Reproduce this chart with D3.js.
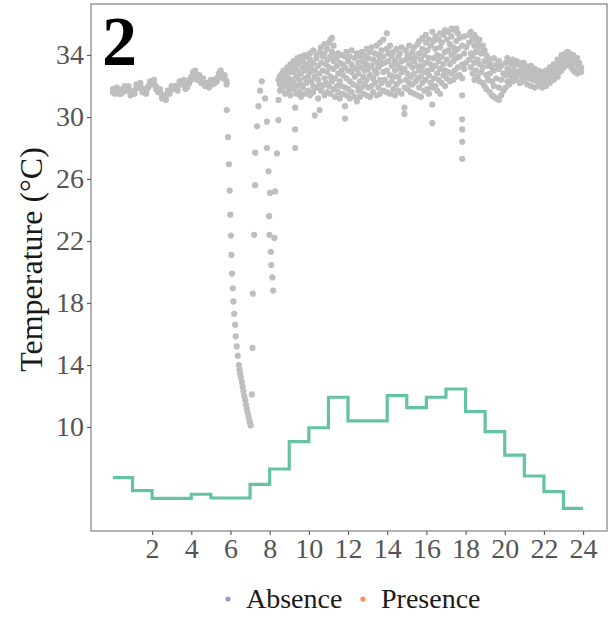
<!DOCTYPE html>
<html>
<head>
<meta charset="utf-8">
<script src="https://cdn.jsdelivr.net/npm/d3@7"></script>
<style>
  html, body { margin: 0; padding: 0; background: #ffffff; }
  svg { display: block; }
</style>
</head>
<body>
<svg id="chart" width="611" height="620"></svg>
<script>
// ---- Temperature readings: each row is [hour, temperature, temperature, ...] ----

// Night trace, 0–6 h (two overlapping nights)
const nightTrace = [
  [0.0, 31.6, 31.8], [0.1, 31.7, 31.5], [0.2, 31.8, 31.9], [0.3, 31.7, 31.5], [0.4, 31.5, 31.7],
  [0.5, 31.6, 31.8], [0.6, 31.8, 32.0], [0.7, 31.9, 31.7], [0.8, 31.8, 32.0], [0.9, 31.6, 31.4],
  [1.0, 31.5, 31.6], [1.1, 31.7, 31.5], [1.2, 31.9, 32.1], [1.3, 32.1, 31.9], [1.4, 32.0, 32.2],
  [1.5, 31.8, 31.6], [1.6, 31.6, 31.8], [1.7, 31.7, 31.5], [1.8, 31.9, 32.0], [1.9, 32.1, 32.3],
  [2.0, 32.3, 32.1], [2.1, 32.2, 32.4], [2.2, 32.0, 31.8], [2.3, 31.8, 31.6], [2.4, 31.6, 31.8],
  [2.5, 31.4, 31.2], [2.6, 31.2, 31.4], [2.7, 31.3, 31.1], [2.8, 31.5, 31.7], [2.9, 31.7, 31.5],
  [3.0, 31.9, 32.0], [3.1, 32.0, 31.8], [3.2, 31.8, 32.0], [3.3, 31.9, 31.7], [3.4, 32.1, 32.3],
  [3.5, 32.3, 32.1], [3.6, 32.2, 32.4], [3.7, 32.0, 31.8], [3.8, 31.9, 32.1], [3.9, 32.2, 32.4],
  [4.0, 32.6, 32.4], [4.1, 32.9, 32.7], [4.2, 32.8, 33.0], [4.3, 32.6, 32.4], [4.4, 32.5, 32.7],
  [4.5, 32.4, 32.2], [4.6, 32.3, 32.5], [4.7, 32.2, 32.0], [4.8, 32.0, 32.2], [4.9, 32.1, 31.9],
  [5.0, 32.2, 32.4], [5.1, 32.3, 32.1], [5.2, 32.2, 32.4], [5.3, 32.5, 32.3], [5.4, 32.8, 32.6],
  [5.5, 32.9, 33.0], [5.6, 32.7, 32.5], [5.7, 32.5, 32.7], [5.8, 32.3, 32.1]
];

// Sharp cooling event around 6–7 h
const coolingDrop = [
  [5.81, 30.45], [5.87, 28.7], [5.92, 26.95], [5.96, 25.25], [5.99, 23.7],
  [6.02, 22.35], [6.05, 21.1], [6.08, 19.9], [6.12, 18.95], [6.15, 18.1],
  [6.19, 17.3], [6.24, 16.6], [6.27, 15.85], [6.32, 15.2], [6.37, 14.6],
  [6.43, 14.0], [6.46, 13.7], [6.49, 13.45], [6.53, 13.2], [6.58, 12.9],
  [6.62, 12.6], [6.66, 12.3], [6.70, 12.0], [6.75, 11.75], [6.79, 11.45],
  [6.83, 11.2], [6.87, 10.95], [6.92, 10.7], [6.96, 10.45], [7.00, 10.25],
  [7.03, 10.1]
];

// Re-warming traces, 7–9.3 h
const rewarming = [
  [7.09, 12.1], [7.12, 15.1], [7.14, 18.6], [7.21, 22.4], [7.26, 25.6],
  [7.26, 27.7], [7.35, 29.4], [7.43, 30.7], [7.51, 31.7], [7.60, 32.3],
  [7.77, 31.2], [7.86, 29.7], [7.86, 28.0], [7.94, 26.5], [8.02, 25.1],
  [7.97, 23.6], [7.99, 22.4], [8.06, 21.3], [8.08, 20.45], [8.14, 19.65],
  [8.18, 18.8],
  [8.45, 31.1], [8.45, 29.8], [8.37, 27.65], [8.28, 25.2], [8.24, 22.2],
  [8.45, 32.4], [8.53, 31.7], [8.62, 32.6], [8.88, 32.9], [9.21, 33.25],
  [9.30, 30.6], [9.30, 29.2], [9.30, 28.0]
];

// Daytime readings, 8.5–20 h
const dayCloud = [
  [8.52, 32.1, 32.6], [8.63, 31.8, 32.4, 32.8], [8.71, 32.3, 33.0], [8.79, 31.5, 32.0, 32.7],
  [8.9, 32.2, 32.9, 33.2], [8.97, 31.7, 32.5], [9.06, 31.4, 32.0, 32.9, 33.4], [9.13, 32.4, 33.1],
  [9.22, 31.8, 32.2, 32.9, 33.6], [9.36, 31.5, 32.6, 33.3], [9.41, 32.0, 33.0, 33.8],
  [9.5, 31.6, 32.4, 33.5], [9.6, 31.3, 32.1, 32.8, 33.9], [9.69, 31.9, 33.2, 33.6],
  [9.8, 31.5, 32.5, 33.0, 34.0], [9.88, 32.2, 33.4, 33.9], [9.97, 31.7, 32.6, 33.1],
  [10.06, 31.4, 32.9, 33.7, 34.1], [10.13, 32.3, 33.3], [10.22, 31.6, 32.0, 33.5, 34.3],
  [10.3, 30.1, 32.6, 33.0], [10.39, 31.9, 33.8, 34.0], [10.47, 31.2, 32.4, 33.3],
  [10.55, 30.45, 32.1, 32.8, 34.2], [10.62, 31.7, 33.5, 34.5], [10.71, 32.0, 33.0, 33.9],
  [10.8, 31.4, 32.5, 34.1, 34.7], [10.87, 32.2, 33.4], [10.94, 31.6, 32.9, 33.7, 34.4],
  [11.03, 32.0, 33.2, 34.8], [11.1, 31.5, 32.6, 33.9, 35.0], [11.18, 32.3, 34.2, 35.1],
  [11.26, 31.8, 33.1, 33.6, 34.6], [11.33, 31.3, 32.5, 34.0], [11.43, 32.0, 33.3, 33.8],
  [11.5, 31.6, 32.8, 34.1], [11.58, 31.2, 32.3, 33.5], [11.66, 32.0, 33.0, 34.0],
  [11.74, 31.5, 32.7, 33.4], [11.85, 30.7, 29.9, 31.9, 33.2, 33.9], [11.92, 31.4, 32.5, 34.2],
  [12.01, 31.8, 33.0, 33.6], [12.09, 31.2, 32.3, 33.9], [12.18, 31.6, 32.9, 33.4, 34.3],
  [12.26, 32.1, 33.2], [12.34, 31.3, 32.6, 33.8], [12.45, 31.0, 32.0, 33.1, 34.1],
  [12.53, 31.7, 32.8, 33.5], [12.61, 31.3, 32.3, 33.9], [12.7, 31.9, 33.2, 34.2],
  [12.78, 31.5, 32.6, 33.6], [12.86, 32.1, 33.0, 34.0], [12.95, 31.4, 32.4, 33.4, 34.4],
  [13.03, 31.9, 33.1, 33.8], [13.12, 31.3, 32.7, 34.2], [13.2, 32.0, 33.3, 34.5],
  [13.28, 31.6, 32.5, 33.7], [13.37, 32.2, 33.0, 34.1], [13.46, 31.4, 32.8, 33.5, 34.6],
  [13.55, 31.9, 33.2, 34.0], [13.63, 31.5, 32.4, 33.7, 34.8], [13.71, 32.2, 33.4, 34.3],
  [13.8, 31.7, 32.9, 33.9, 35.0], [13.88, 32.4, 33.5], [13.98, 35.4, 31.6, 33.0, 34.4],
  [14.06, 32.1, 33.6, 34.1], [14.14, 31.5, 32.7, 34.6], [14.23, 32.3, 33.3, 33.9],
  [14.31, 31.8, 32.6, 34.2], [14.4, 31.4, 33.0, 33.6], [14.48, 32.1, 33.4, 34.4],
  [14.57, 31.7, 32.6, 33.9], [14.65, 32.3, 33.2, 34.1], [14.74, 31.5, 32.9, 33.6, 34.5],
  [14.88, 30.6, 30.2, 31.9, 33.1], [14.95, 32.4, 33.7, 34.3], [15.04, 31.8, 32.8, 34.0],
  [15.12, 32.2, 33.4, 34.6], [15.2, 31.6, 32.6, 33.8], [15.29, 32.1, 33.2, 34.2],
  [15.38, 31.5, 32.8, 33.6, 34.5], [15.46, 32.3, 33.9], [15.55, 31.4, 32.5, 33.3, 34.7],
  [15.63, 31.9, 33.0, 34.1, 34.9], [15.72, 31.3, 32.6, 33.7], [15.8, 32.2, 33.3, 34.4, 35.1],
  [15.89, 31.7, 32.9, 34.0], [15.97, 32.4, 33.5, 34.8, 35.3], [16.05, 31.8, 33.0, 34.3],
  [16.13, 31.5, 32.7, 33.8, 35.0], [16.22, 32.2, 33.4, 34.6], [16.3, 30.8, 29.6, 31.9, 33.1, 35.5],
  [16.38, 32.5, 33.8, 34.9], [16.46, 32.0, 33.3, 34.4, 35.2], [16.55, 31.7, 32.8, 34.0],
  [16.63, 32.4, 33.6, 35.0], [16.7, 31.5, 33.1, 34.5, 35.4], [16.78, 32.2, 33.9, 34.8],
  [16.87, 32.7, 33.4, 35.3], [16.95, 32.0, 33.0, 34.2, 35.6], [17.04, 32.5, 33.7, 35.0],
  [17.12, 32.9, 34.3, 35.5], [17.2, 32.3, 33.4, 34.7], [17.28, 32.8, 34.0, 35.2, 35.7],
  [17.37, 32.4, 33.6, 34.5], [17.45, 33.0, 34.2, 35.6], [17.53, 32.6, 33.8, 34.9, 35.7],
  [17.61, 33.2, 34.4, 35.4], [17.7, 32.7, 33.9, 35.1],
  [17.83, 31.4, 29.85, 29.2, 28.4, 27.3, 32.5, 33.4, 34.6], [17.93, 33.1, 34.1, 35.2],
  [18.03, 33.5, 34.5], [18.18, 33.7, 34.8, 35.3], [18.27, 33.2, 34.1, 35.5],
  [18.36, 32.8, 33.9, 35.0], [18.45, 32.4, 33.5, 34.6, 35.3], [18.53, 33.0, 34.2, 35.1],
  [18.62, 32.6, 33.7, 34.8], [18.71, 32.3, 33.4, 34.5, 35.0], [18.8, 32.9, 34.1],
  [18.88, 32.2, 33.2, 34.6], [18.97, 32.0, 33.6, 34.3], [19.06, 31.8, 32.7, 34.0],
  [19.15, 32.4, 33.3, 33.8], [19.24, 31.6, 32.8, 33.5], [19.35, 31.4, 32.3, 33.2],
  [19.45, 31.3, 32.0, 33.0, 33.8], [19.57, 31.2, 32.5, 33.4], [19.7, 31.1, 31.9, 33.1, 33.6],
  [19.82, 31.4, 32.4, 33.3], [19.93, 31.7, 32.8]
];

// Evening trace, 20–24 h
const eveningTrace = [
  [20.04, 31.9, 32.7, 33.5], [20.13, 32.3, 33.1, 33.8], [20.23, 32.1, 32.8, 33.6], [20.33, 32.6, 33.4],
  [20.41, 32.3, 33.0, 33.7], [20.5, 32.7, 33.3], [20.6, 32.4, 32.9, 33.6], [20.69, 32.8, 33.4],
  [20.78, 32.2, 33.0, 33.5], [20.88, 32.6, 33.2], [20.97, 32.3, 32.9, 33.5], [21.06, 32.7, 33.3],
  [21.15, 32.1, 32.6, 33.2], [21.25, 32.5, 33.0], [21.34, 32.0, 32.7, 33.3], [21.44, 32.4, 32.9],
  [21.53, 31.9, 32.6, 33.1], [21.62, 32.3, 32.8], [21.72, 32.0, 32.5, 33.0], [21.81, 32.2, 32.8],
  [21.91, 31.9, 32.4, 32.9], [22.0, 32.2, 32.7], [22.1, 32.0, 32.5, 33.0], [22.2, 32.3, 32.9],
  [22.3, 32.2, 32.7, 33.2], [22.4, 32.5, 33.1], [22.5, 32.4, 32.9, 33.4], [22.6, 32.7, 33.3],
  [22.7, 32.6, 33.1, 33.7], [22.8, 32.9, 33.6], [22.9, 33.0, 33.4, 34.0], [23.0, 33.2, 33.8],
  [23.1, 33.3, 33.7, 34.1], [23.2, 33.5, 34.2], [23.3, 33.4, 33.9, 34.1], [23.4, 33.2, 33.8],
  [23.5, 33.0, 33.5, 34.0], [23.6, 32.9, 33.7], [23.7, 32.8, 33.3, 33.8], [23.8, 33.0, 33.5],
  [23.9, 32.9, 33.2]
];

// Hourly step series (value for hour h .. h+1)
const stepHours = [0, 1, 2, 3, 4, 5, 6, 7, 8, 9, 10, 11, 12, 13, 14, 15, 16, 17, 18, 19, 20, 21, 22, 23];
const stepValues = [6.73, 5.89, 5.40, 5.40, 5.66, 5.42, 5.42, 6.30, 7.29, 9.05, 9.95, 11.92,
                    10.39, 10.39, 12.02, 11.25, 11.92, 12.45, 10.99, 9.70, 8.19, 6.84, 5.83, 4.75];

// Axis ticks and legend
const xTicks = [2, 4, 6, 8, 10, 12, 14, 16, 18, 20, 22, 24];
const yTicks = [10, 14, 18, 22, 26, 30, 34];
const legendLabels = ["Absence", "Presence"];
const legendColors = ["#8da0cb", "#fc8d62"];
const panelTag = "2";

// ---- Layout ----
const W = 611, H = 620;
const margin = { top: 4, right: 4, bottom: 89, left: 91 };
const serif = "'Liberation Serif', 'Times New Roman', serif";

const svg = d3.select("#chart");

const x = d3.scaleLinear().domain([-1.12, 25.22]).range([margin.left, W - margin.right]);
const y = d3.scaleLinear().domain([3.29, 37.29]).range([H - margin.bottom, margin.top]);

// flatten rows into points
function flatten(rows) {
  const out = [];
  rows.forEach(r => { for (let i = 1; i < r.length; i++) out.push({ h: r[0], t: r[i] }); });
  return out;
}
const points = [].concat(
  flatten(nightTrace), flatten(coolingDrop), flatten(rewarming),
  flatten(dayCloud), flatten(eveningTrace)
);

// panel background
svg.append("rect")
  .attr("x", margin.left).attr("y", margin.top)
  .attr("width", W - margin.left - margin.right)
  .attr("height", H - margin.top - margin.bottom)
  .attr("fill", "#ffffff");

// scatter
svg.append("g")
  .selectAll("circle")
  .data(points)
  .join("circle")
  .attr("cx", d => x(d.h))
  .attr("cy", d => y(d.t))
  .attr("r", 3.1)
  .attr("fill", "#bebebe");

// step line
const stepData = stepHours.map((h, i) => ({ h, v: stepValues[i] }));
stepData.push({ h: 24, v: stepValues[stepValues.length - 1] });
svg.append("path")
  .datum(stepData)
  .attr("fill", "none")
  .attr("stroke", "#66c2a5")
  .attr("stroke-width", 3.2)
  .attr("d", d3.line().x(d => x(d.h)).y(d => y(d.v)).curve(d3.curveStepAfter));

// panel border
svg.append("rect")
  .attr("x", margin.left).attr("y", margin.top)
  .attr("width", W - margin.left - margin.right)
  .attr("height", H - margin.top - margin.bottom)
  .attr("fill", "none")
  .attr("stroke", "#8a8a8a")
  .attr("stroke-width", 1.3);

// axes
const xAxis = svg.append("g")
  .attr("transform", `translate(0,${H - margin.bottom})`)
  .call(d3.axisBottom(x).tickValues(xTicks).tickSize(4).tickPadding(3).tickFormat(d3.format("d")));
const yAxis = svg.append("g")
  .attr("transform", `translate(${margin.left},0)`)
  .call(d3.axisLeft(y).tickValues(yTicks).tickSize(4).tickPadding(3).tickFormat(d3.format("d")));

[xAxis, yAxis].forEach(g => {
  g.select(".domain").remove();
  g.selectAll(".tick line").attr("stroke", "#555555").attr("stroke-width", 1.1);
  g.selectAll(".tick text")
    .attr("fill", "#555555")
    .style("font-family", serif)
    .style("font-size", "28px");
});

// y axis title
svg.append("text")
  .attr("transform", `translate(42,${(margin.top + H - margin.bottom) / 2 - 8}) rotate(-90)`)
  .attr("text-anchor", "middle")
  .attr("fill", "#1a1a1a")
  .style("font-family", serif)
  .style("font-size", "32px")
  .text("Temperature (°C)");

// panel tag
svg.append("text")
  .attr("x", 102).attr("y", 65)
  .attr("fill", "#000000")
  .style("font-family", serif)
  .style("font-weight", "bold")
  .style("font-size", "70px")
  .text(panelTag);

// legend
const legend = svg.append("g");
const legendX = [228, 363];
legendLabels.forEach((lab, i) => {
  legend.append("circle")
    .attr("cx", legendX[i]).attr("cy", 599)
    .attr("r", 2.6)
    .attr("fill", legendColors[i]);
  legend.append("text")
    .attr("x", legendX[i] + 18).attr("y", 608)
    .attr("fill", "#1a1a1a")
    .style("font-family", serif)
    .style("font-size", "28px")
    .text(lab);
});
</script>
</body>
</html>
